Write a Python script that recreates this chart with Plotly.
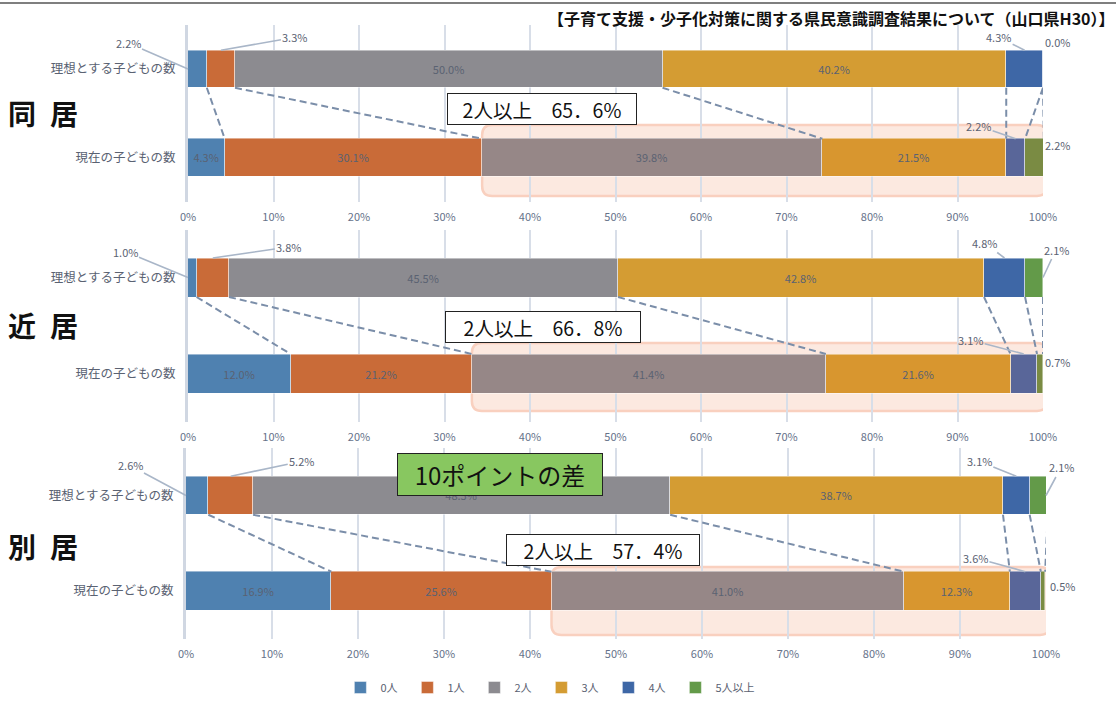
import plotly.graph_objects as go

W, H = 1116, 702

# ---------------- data ----------------
series_names = ['0人', '1人', '2人', '3人', '4人', '5人以上']
row_names = ['理想とする子どもの数', '現在の子どもの数']
panel_names = ['同\u2002居', '近\u2002居', '別\u2002居']

doukyo_ideal = [2.2, 3.3, 50.0, 40.2, 4.3, 0.0]
doukyo_now = [4.3, 30.1, 39.8, 21.5, 2.2, 2.2]
kinkyo_ideal = [1.0, 3.8, 45.5, 42.8, 4.8, 2.1]
kinkyo_now = [12.0, 21.2, 41.4, 21.6, 3.1, 0.7]
bekkyo_ideal = [2.6, 5.2, 48.5, 38.7, 3.1, 2.1]
bekkyo_now = [16.9, 25.6, 41.0, 12.3, 3.6, 0.5]

over2_values = ['65．6', '66．8', '57．4']
diff_text = '10ポイントの差'
title_text = '【子育て支援・少子化対策に関する県民意識調査結果について（山口県H30）】'
x_tick_values = [0, 10, 20, 30, 40, 50, 60, 70, 80, 90, 100]
x_tick_labels = [f'{v}%' for v in x_tick_values]

panels = [(doukyo_ideal, doukyo_now), (kinkyo_ideal, kinkyo_now), (bekkyo_ideal, bekkyo_now)]

# ---------------- style ----------------
FONT = 'Noto Sans CJK JP'
colors_ideal = ['#4f81b0', '#c96b38', '#8c8b90', '#d49c33', '#3e67a6', '#639a49']
colors_now = ['#4f81b0', '#c96b38', '#968787', '#d8962f', '#596699', '#7a8b43']
label_color = '#5a6272'
tick_color = '#66728a'
leader_color = '#a9b6c8'
dash_color = '#7b8ea9'
legend_widths = [22, 22, 22, 22, 22, 50]

# pixel geometry per panel: x of 0%, x of 100%, centre of first row, row spacing, bar height
geo = [
    dict(x0=188, x1=1043, c0=69, sp=88.5, bh=37.5, rect=(125, 196), box=(542, 109, 190), label_y=113),
    dict(x0=188, x1=1043, c0=277.5, sp=96, bh=39, rect=(343, 411), box=(543, 327, 196), label_y=325),
    dict(x0=186, x1=1046, c0=495.5, sp=95.5, bh=38.5, rect=(567, 635), box=(603, 550, 194), label_y=546),
]

# outside labels: (panel, row, series, anchor kind, dx px, dy px)
outside = [
    (0, 0, 0, 'left', -60, -26), (0, 0, 1, 'top', 74, -13), (0, 0, 4, 'top', -26, -13),
    (0, 0, 5, 'none', 14, -27), (0, 1, 4, 'top', -37, -13), (0, 1, 5, 'none', 14, -13),
    (1, 0, 0, 'left', -63, -26), (1, 0, 1, 'top', 76, -11), (1, 0, 4, 'top', -20, -15),
    (1, 0, 5, 'right', 13, -28), (1, 1, 4, 'top', -53, -14), (1, 1, 5, 'none', 14, -12),
    (2, 0, 0, 'left', -56, -30), (2, 0, 1, 'top', 71, -15), (2, 0, 4, 'top', -37, -15),
    (2, 0, 5, 'right', 15, -28), (2, 1, 4, 'top', -50, -14), (2, 1, 5, 'none', 16, -5),
]
outside_keys = {(p, r, s) for p, r, s, *_ in outside}


def cum(vals):
    out, c = [0.0], 0.0
    for v in vals:
        c += v
        out.append(c)
    return out


fig = go.Figure()
shapes = []
annotations = []
layout_axes = {}

for p, (ideal, now) in enumerate(panels):
    g = geo[p]
    suf = '' if p == 0 else str(p + 1)
    xa, ya = 'x' + suf, 'y' + suf
    w = g['bh'] / g['sp']
    pxper = (g['x1'] - g['x0']) / 100.0

    for s, name in enumerate(series_names):
        vals = [ideal[s], now[s]]
        texts = []
        for r in range(2):
            texts.append('' if (p, r, s) in outside_keys else f'{vals[r]:.1f}%')
        fig.add_trace(go.Bar(
            y=[0, 1], x=vals, orientation='h', name=name, legendgroup=name,
            showlegend=(p == 0), legendwidth=legend_widths[s], xaxis=xa, yaxis=ya, width=w,
            marker=dict(color=[colors_ideal[s], colors_now[s]],
                        line=dict(color='rgba(255,255,255,0.55)', width=0.8)),
            text=texts, textposition='inside', insidetextanchor='middle', textangle=0,
            textfont=dict(size=11, color=label_color, family=FONT),
            hoverinfo='skip',
        ))

    top_px = g['c0'] - 0.5 * g['sp']
    bot_px = g['c0'] + 1.5 * g['sp']
    layout_axes['xaxis' + suf] = dict(
        domain=[g['x0'] / W, g['x1'] / W], anchor=ya, range=[0, 100], automargin=False,
        tickmode='array', tickvals=x_tick_values, ticktext=x_tick_labels,
        showgrid=True, gridcolor='#d8dee8', gridwidth=1.5,
        zeroline=False, showline=False, ticks='', ticklabelstandoff=7,
        tickfont=dict(size=11, color=tick_color, family=FONT), fixedrange=True,
    )
    layout_axes['yaxis' + suf] = dict(
        domain=[1 - bot_px / H, 1 - top_px / H], anchor=xa, range=[1.5, -0.5], automargin=False,
        tickmode='array', tickvals=[0, 1], ticktext=row_names, showgrid=False, zeroline=False,
        showline=True, linecolor='#d0d7e2', linewidth=3, ticks='', ticklabelstandoff=7,
        tickfont=dict(size=12.5, color=label_color, family=FONT), fixedrange=True,
    )

    # rounded highlight rectangle over the 2+ children part of the current row
    ci, cn = cum(ideal), cum(now)
    xl = cn[2]
    xr = 100 + 4 / pxper
    yt = (g['rect'][0] - g['c0']) / g['sp']
    yb = (g['rect'][1] - g['c0']) / g['sp']
    rx, ry = 10 / pxper, 10 / g['sp']
    path = (f'M {xl+rx},{yt} L {xr-rx},{yt} Q {xr},{yt} {xr},{yt+ry} L {xr},{yb-ry} '
            f'Q {xr},{yb} {xr-rx},{yb} L {xl+rx},{yb} Q {xl},{yb} {xl},{yb-ry} '
            f'L {xl},{yt+ry} Q {xl},{yt} {xl+rx},{yt} Z')
    shapes.append(dict(type='path', path=path, xref=xa, yref=ya, layer='below',
                       fillcolor='#fce9e0', line=dict(color='#f9d0bf', width=2.5)))

    # dashed connectors between matching boundaries
    for k in range(1, 7):
        shapes.append(dict(type='line', xref=xa, yref=ya, layer='above',
                           x0=ci[k], y0=w / 2, x1=cn[k], y1=1 - w / 2,
                           line=dict(color=dash_color, width=2, dash='7px,4px')))

    # outside labels with leader lines
    for (pp, r, s, kind, dx, dy) in outside:
        if pp != p:
            continue
        vals = ideal if r == 0 else now
        cc = ci if r == 0 else cn
        txt = f'{vals[s]:.1f}%'
        if kind == 'none':
            annotations.append(dict(x=100, y=r, xref=xa, yref=ya, text=txt, showarrow=False,
                                    xshift=dx, yshift=-dy, font=dict(size=11, color=label_color, family=FONT)))
            continue
        if kind == 'top':
            tx, ty = cc[s] + vals[s] / 2, r - w / 2
        elif kind == 'left':
            tx, ty = 0, r
        else:
            tx, ty = 100, r
        annotations.append(dict(x=tx, y=ty, xref=xa, yref=ya, text=txt, showarrow=True,
                                arrowhead=0, arrowwidth=1.6, arrowcolor=leader_color, standoff=0,
                                ax=dx, ay=dy, font=dict(size=11, color=label_color, family=FONT)))

    # panel label
    annotations.append(dict(x=6 / W, y=1 - g['label_y'] / H, xref='paper', yref='paper',
                            xanchor='left', yanchor='middle', text=f'<b>{panel_names[p]}</b>',
                            showarrow=False, font=dict(size=28, color='#111111', family=FONT)))
    # "2人以上" box
    bx, by, bw = g['box']
    annotations.append(dict(x=bx / W, y=1 - by / H, xref='paper', yref='paper',
                            xanchor='center', yanchor='middle', showarrow=False,
                            text=f'2人以上　{over2_values[p]}%', width=bw - 4, height=28,
                            bgcolor='white', bordercolor='#222222', borderwidth=1, borderpad=1,
                            font=dict(size=19.5, color='#111111', family=FONT)))

# green difference box
annotations.append(dict(x=500 / W, y=1 - 474 / H, xref='paper', yref='paper',
                        xanchor='center', yanchor='middle', showarrow=False, text=diff_text,
                        width=202, height=39, bgcolor='#88c760', bordercolor='#222222',
                        borderwidth=1, borderpad=1, font=dict(size=24, color='#111111', family=FONT)))
# title
annotations.append(dict(x=1.0, y=1 - 18 / H, xref='paper', yref='paper',
                        xanchor='right', yanchor='middle', showarrow=False, borderpad=0,
                        text=f'<b>{title_text}</b>', font=dict(size=16, color='#111111', family=FONT)))

# top rule
shapes.append(dict(type='line', xref='paper', yref='paper', x0=0, x1=1,
                   y0=1 - 3 / H, y1=1 - 3 / H, line=dict(color='#555555', width=1.5)))

fig.update_layout(
    width=W, height=H, autosize=False, margin=dict(l=0, r=0, t=0, b=0, pad=0),
    paper_bgcolor='white', plot_bgcolor='rgba(0,0,0,0)',
    barmode='stack', bargap=0,
    font=dict(family=FONT, color=label_color),
    shapes=shapes, annotations=annotations,
    legend=dict(orientation='h', x=0.305, xanchor='left', y=0, yanchor='bottom',
                traceorder='normal',
                font=dict(size=11, color=label_color, family=FONT), bgcolor='rgba(0,0,0,0)'),
    **layout_axes,
)

fig.write_html('out.html')
